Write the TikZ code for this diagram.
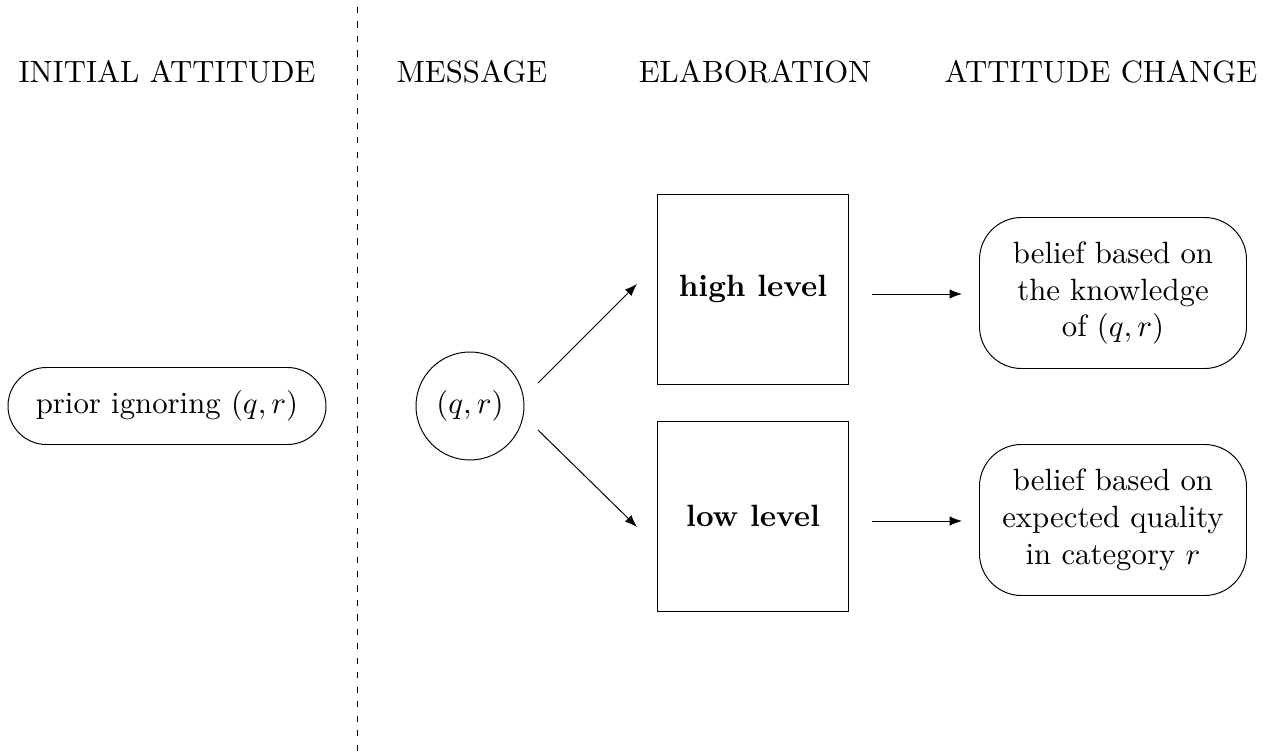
\documentclass[tikz,border=0pt]{standalone}
\usetikzlibrary{shapes.misc,arrows.meta}
\newdimen\pxu \pxu=0.325pt
\begin{document}
\begin{tikzpicture}[x=0.325pt,y=-0.325pt,line width=0.32pt,
  hdr/.style={anchor=base,inner sep=0pt},
  sq/.style={draw,minimum width=191*\pxu,minimum height=190*\pxu,inner sep=0pt,font=\bfseries},
  belief/.style={draw,rounded corners=42*\pxu,minimum width=267*\pxu,minimum height=151*\pxu,align=center,inner sep=0pt},
  arr/.style={-{Latex[length=4pt,width=3pt]}}]
\useasboundingbox (0,0) rectangle (1276,756);
\coordinate (dtop) at (357,7);
\coordinate (dbot) at (357,756);
\draw[dash pattern=on 2pt off 2.7pt] (dtop) -- (dbot);
\node[hdr] (h1) at (167,83) {INITIAL ATTITUDE};
\node[hdr] (h2) at (472,83) {MESSAGE};
\node[hdr] (h3) at (755,83) {ELABORATION};
\node[hdr] (h4) at (1101,83) {ATTITUDE CHANGE};
\node[draw,rounded rectangle,minimum width=318*\pxu,minimum height=77*\pxu,inner sep=0pt] (prior) at (167,406) {prior ignoring $(q,r)$};
\node[draw,circle,minimum size=108*\pxu,inner sep=0pt] (msg) at (470,406) {$(q,r)$};
\node[sq] (high) at (753,289) {high level};
\node[sq] (low) at (753,516) {low level};
\node[belief] (b1) at (1113,293) {belief based on\\the knowledge\\of $(q,r)$};
\node[belief] (b2) at (1113,520) {belief based on\\expected quality\\in category $r$};
\coordinate (a1s) at (538,383);
\coordinate (a1e) at (637,284);
\coordinate (a2s) at (538,430);
\coordinate (a2e) at (637,527);
\coordinate (a3s) at (872,294);
\coordinate (a3e) at (962,294);
\coordinate (a4s) at (872,521);
\coordinate (a4e) at (962,521);
\draw[arr] (a1s) -- (a1e);
\draw[arr] (a2s) -- (a2e);
\draw[arr] (a3s) -- (a3e);
\draw[arr] (a4s) -- (a4e);
\end{tikzpicture}
\end{document}
